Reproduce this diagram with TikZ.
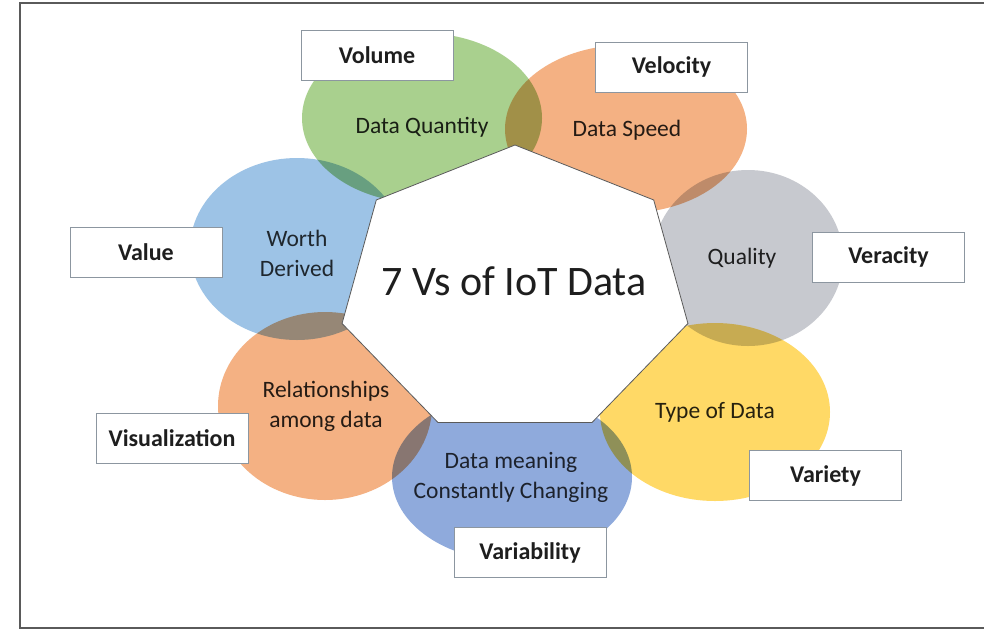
\documentclass[tikz,border=0pt]{standalone}
\usepackage{fontspec}
\setmainfont{Carlito}
\usetikzlibrary{shapes.geometric}
\definecolor{cgreen}{RGB}{169,208,142}
\definecolor{corange}{RGB}{244,177,131}
\definecolor{cgray}{RGB}{199,201,207}
\definecolor{cyellow}{RGB}{255,217,102}
\definecolor{cbluevar}{RGB}{143,170,220}
\definecolor{cblueval}{RGB}{157,195,230}
\definecolor{boxline}{RGB}{140,150,160}
\definecolor{frameline}{RGB}{90,90,90}
\definecolor{txt}{RGB}{30,30,30}
\tikzset{
  blob/.style={blend mode=multiply},
  lbl/.style={draw=boxline, line width=0.9pt, fill=white, minimum width=152pt, minimum height=50pt, inner sep=0pt, font=\fontsize{24}{28}\selectfont\bfseries, text=txt},
  inner/.style={align=center, inner sep=0pt, font=\fontsize{23.5}{30}\selectfont},
}
\begin{document}
\begin{tikzpicture}[x=1pt,y=-1pt]
\useasboundingbox (0,0) rectangle (984,630);
\fill[white] (0,0) rectangle (984,630);
% frame
\draw[frameline, line width=1.4pt] (990,3) -- (20,3) -- (20,628) -- (990,628);
% ellipses
\fill[cgreen, blob] (422,118) ellipse [x radius=120pt, y radius=85pt];
\fill[corange, blob] (626,129) ellipse [x radius=121pt, y radius=84pt];
\fill[cgray, blob] (748,258) ellipse [x radius=95pt, y radius=88pt];
\fill[cyellow, blob] (715,412) ellipse [x radius=115pt, y radius=89pt];
\fill[cbluevar, blob] (512,477) ellipse [x radius=120pt, y radius=84pt];
\fill[corange, blob] (325,406) ellipse [x radius=107pt, y radius=94pt];
\fill[cblueval, blob] (297,249) ellipse [x radius=107pt, y radius=91pt];
% heptagon
\draw[frameline, line width=0.8pt, fill=white]
  (515,145)
  \foreach \k in {1,...,6} { -- ({515+177.4*cos(90+\k*360/7)},{291-146*sin(90+\k*360/7)}) } -- cycle;
\node[anchor=base, font=\fontsize{42}{48}\selectfont, text=txt] (title) at (514,295) {7 Vs of IoT Data};
% inner texts
\node[inner, text=black!85!cgreen] (tq) at (422,127) {Data Quantity};
\node[inner, text=black!85!corange] (ts) at (627,130) {Data Speed};
\node[inner, text=black!85!cgray] (tql) at (742,258) {Quality};
\node[inner, text=black!85!cyellow] (tt) at (715,412) {Type of Data};
\node[inner, text=black!80!cbluevar] (tm) at (511,477) {Data meaning\\Constantly Changing};
\node[inner, text=black!85!corange] (tr) at (326,406) {Relationships\\among data};
\node[inner, text=black!80!cblueval] (tw) at (297,253) {Worth\\Derived};
% label boxes
\node[lbl] (volume) at (377,55.5) {Volume};
\node[lbl] (velocity) at (671.5,67) {Velocity};
\node[lbl] (veracity) at (888.5,257) {Veracity};
\node[lbl] (variety) at (825.5,475.5) {Variety};
\node[lbl] (variability) at (530,552.5) {Variability};
\node[lbl] (visualization) at (172,438) {Visualization};
\node[lbl] (value) at (146,252) {Value};
\end{tikzpicture}
\end{document}
